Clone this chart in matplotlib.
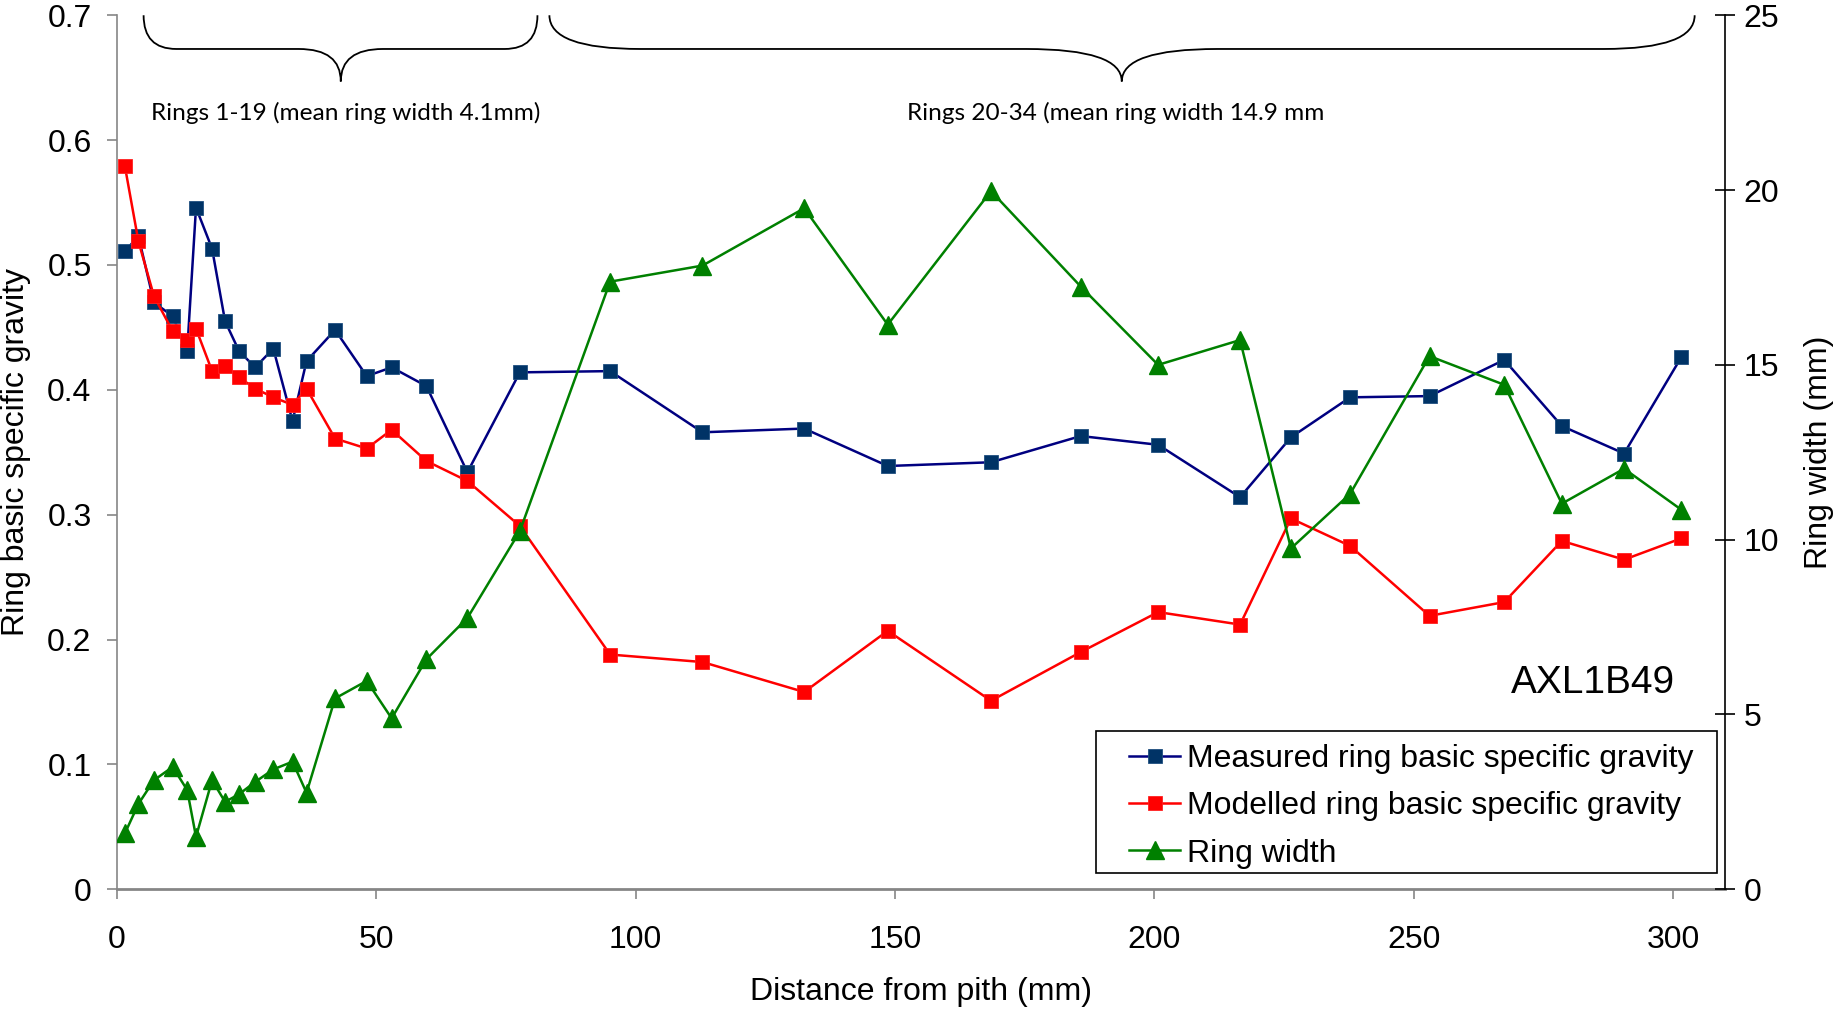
import matplotlib.pyplot as plt
from matplotlib.path import Path
from matplotlib.patches import PathPatch, Rectangle

plt.rcParams['font.family'] = ['Liberation Sans', 'DejaVu Sans']

# ring positions (mm from pith) and values
distance = [1.6, 4.2, 7.2, 10.8, 13.6, 15.3, 18.4, 20.9, 23.6, 26.7, 30.2, 33.9,
            36.6, 42.1, 48.2, 53.0, 59.7, 67.6, 77.7, 95.1, 112.9, 132.5, 148.6,
            168.5, 185.8, 200.7, 216.5, 226.3, 237.7, 253.0, 267.4, 278.5, 290.5, 301.5]
measured = [0.511, 0.523, 0.470, 0.459, 0.431, 0.546, 0.513, 0.455, 0.431, 0.418,
            0.433, 0.375, 0.423, 0.448, 0.411, 0.418, 0.403, 0.334, 0.414, 0.415,
            0.366, 0.369, 0.339, 0.342, 0.363, 0.356, 0.314, 0.362, 0.394, 0.395,
            0.424, 0.371, 0.349, 0.426]
modelled = [0.579, 0.519, 0.475, 0.447, 0.440, 0.449, 0.415, 0.419, 0.410, 0.401,
            0.394, 0.388, 0.401, 0.361, 0.353, 0.368, 0.343, 0.327, 0.291, 0.188,
            0.182, 0.158, 0.207, 0.151, 0.190, 0.222, 0.212, 0.297, 0.275, 0.219,
            0.230, 0.279, 0.264, 0.281]
ring_width = [1.60, 2.44, 3.12, 3.50, 2.84, 1.50, 3.12, 2.50, 2.72, 3.07, 3.43, 3.65,
              2.76, 5.46, 5.96, 4.89, 6.58, 7.76, 10.24, 17.38, 17.84, 19.48, 16.15,
              19.97, 17.24, 15.0, 15.71, 9.75, 11.31, 15.25, 14.43, 11.03, 12.03, 10.86]

# brace annotations: (start, centre, end) in mm, label position and label
groups = [(5.2, 43.2, 81.1, 44.2, 'Rings 1-19 (mean ring width 4.1mm)'),
          (83.4, 193.7, 304.1, 192.6, 'Rings 20-34 (mean ring width 14.9 mm')]
corner = [6.3, 17.5]
centre_w = [8.1, 18.4]

x_ticks = [0, 50, 100, 150, 200, 250, 300]
sg_ticks = [0, 0.1, 0.2, 0.3, 0.4, 0.5, 0.6, 0.7]
sg_labels = ['0', '0.1', '0.2', '0.3', '0.4', '0.5', '0.6', '0.7']
rw_ticks = [0, 5, 10, 15, 20, 25]

fig = plt.figure(figsize=(18.48, 10.11), dpi=100)
ax = fig.add_axes([0.0631, 0.1204, 0.8705, 0.8645])
ax2 = ax.twinx()

grey = '#868686'
l1, = ax.plot(distance, measured, color='#000080', lw=1.8, marker='s', ms=10,
              mfc='#003366', mec='#1f4f7f', mew=0.6, label='Measured ring basic specific gravity')
l2, = ax.plot(distance, modelled, color='#ff0000', lw=1.8, marker='s', ms=10,
              mfc='#ff0000', mec='#ff2020', mew=0.6, label='Modelled ring basic specific gravity')
l3, = ax2.plot(distance, ring_width, color='#008000', lw=1.8, marker='^', ms=13.5,
               mfc='#008000', mec='#008000', label='Ring width')

ax.set_xlim(0, 310)
ax.set_ylim(0, 0.7)
ax2.set_ylim(0, 25)
ax.set_xticks(x_ticks)
ax.set_yticks(sg_ticks)
ax.set_yticklabels(sg_labels)
ax2.set_yticks(rw_ticks)

for a in (ax, ax2):
    a.spines['top'].set_visible(False)
ax.spines['right'].set_visible(False)
ax2.spines['left'].set_visible(False)
ax2.spines['bottom'].set_visible(False)
ax.spines['left'].set_color(grey)
ax.spines['left'].set_linewidth(1.2)
ax.spines['bottom'].set_color(grey)
ax.spines['bottom'].set_linewidth(2)
ax2.spines['right'].set_color('black')
ax2.spines['right'].set_linewidth(1.2)

ax.tick_params(axis='y', direction='out', length=7, width=1.2, color=grey,
               labelsize=23, pad=11)
ax.tick_params(axis='x', direction='out', length=7, width=1.2, color=grey,
               labelsize=23, pad=19)
ax2.tick_params(axis='y', direction='inout', length=14, width=1.2, color='black',
                labelsize=23, pad=6)

ax.set_xlabel('Distance from pith (mm)', fontsize=23, va='center')
ax.xaxis.set_label_coords(0.5, -0.117)
ax.set_ylabel('Ring basic specific gravity', fontsize=23, va='center')
ax.yaxis.set_label_coords(-0.0623, 0.5)
ax2.set_ylabel('Ring width (mm)', fontsize=23, va='center', rotation=90)
ax2.yaxis.set_label_coords(1.058, 0.5)

# curly braces above the two ring groups
top, mid, tip = 0.7, 0.673, 0.647
for (x1, xm, x2, xt, txt), c, cw in zip(groups, corner, centre_w):
    verts = [(x1, top), (x1, mid), (x1 + c, mid),
             (xm - cw, mid), (xm, mid), (xm, tip),
             (xm, mid), (xm + cw, mid),
             (x2 - c, mid), (x2, mid), (x2, top)]
    codes = [Path.MOVETO, Path.CURVE3, Path.CURVE3,
             Path.LINETO, Path.CURVE3, Path.CURVE3,
             Path.CURVE3, Path.CURVE3,
             Path.LINETO, Path.CURVE3, Path.CURVE3]
    ax.add_patch(PathPatch(Path(verts, codes), fill=False, lw=1.3,
                           edgecolor='black', clip_on=False))
    ax.text(xt, 0.622, txt, ha='center', va='center', fontsize=17.6,
            family=['Lato', 'DejaVu Sans'])

ax.text(300.3, 0.165, 'AXL1B49', ha='right', va='center', fontsize=28)

# legend box drawn separately so the padding can match the original
ax2.add_patch(Rectangle((0.6089, 0.0183), 0.386, 0.1632, transform=ax2.transAxes,
                        facecolor='white', edgecolor='black', lw=1.2, zorder=4.9))
ax2.legend(handles=[l1, l2, l3], loc='upper left', bbox_to_anchor=(0.6294, 0.1665),
           borderaxespad=0, borderpad=0, fontsize=23, frameon=False,
           handlelength=1.6, handletextpad=0.2, labelspacing=0.545)

fig.savefig('out.png', dpi=100)
